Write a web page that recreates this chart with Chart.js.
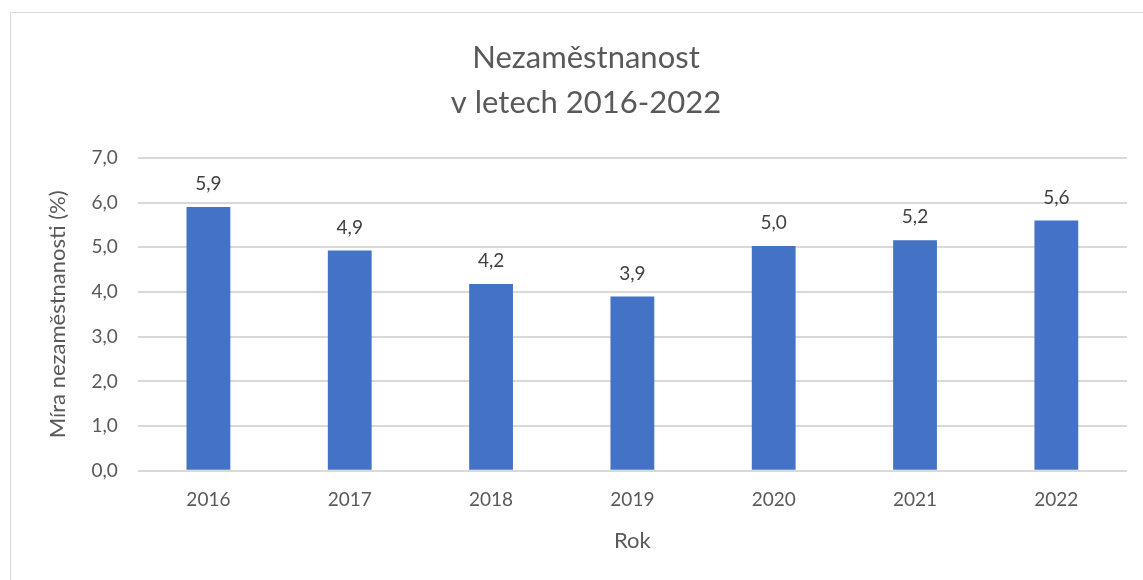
<!DOCTYPE html>
<html>
<head>
<meta charset="utf-8">
<script src="https://cdn.jsdelivr.net/npm/chart.js@4"></script>
<style>
    html, body { margin: 0; padding: 0; background: #fff; }
    #wrap { position: relative; width: 1143px; height: 580px; overflow: hidden; }
    #frame { position: absolute; left: 10px; top: 12px; width: 1150px; height: 580px; border: 1px solid #d9d9d9; box-sizing: border-box; }
    canvas { position: absolute; left: 0; top: 0; }
</style>
</head>
<body>
<div id="wrap">
    <div id="frame"></div>
    <canvas id="chart" width="1143" height="580"></canvas>
</div>
<script>
const years = ["2016", "2017", "2018", "2019", "2020", "2021", "2022"];
const unemployment = [5.9, 4.93, 4.18, 3.9, 5.03, 5.16, 5.6];
const labelValues = ["5,9", "4,9", "4,2", "3,9", "5,0", "5,2", "5,6"];
const yTicks = [0, 1, 2, 3, 4, 5, 6, 7];

const textColor = "#595959";
const gridColor = "#d9d9d9";
const fontFamily = "Lato, 'Open Sans', sans-serif";

// draws the value above each bar, like Excel data labels
const barLabels = {
    id: "barLabels",
    afterDatasetsDraw(chart) {
        const ctx = chart.ctx;
        const meta = chart.getDatasetMeta(0);
        ctx.save();
        ctx.fillStyle = "#404040";
        ctx.font = "19px " + fontFamily;
        ctx.textAlign = "center";
        ctx.textBaseline = "middle";
        meta.data.forEach(function (bar, i) {
            ctx.fillText(labelValues[i], bar.x, bar.y - 23);
        });
        ctx.restore();
    }
};

new Chart(document.getElementById("chart"), {
    type: "bar",
    data: {
        labels: years,
        datasets: [{
            data: unemployment,
            backgroundColor: "#4472C4",
            borderWidth: 0,
            categoryPercentage: 1,
            barPercentage: 0.31
        }]
    },
    options: {
        responsive: false,
        animation: false,
        layout: { padding: { left: 45, right: 16, top: 10, bottom: 22 } },
        plugins: {
            legend: { display: false },
            tooltip: { enabled: false },
            title: {
                display: true,
                text: ["Nezaměstnanost", "v letech 2016-2022"],
                color: textColor,
                font: { family: fontFamily, size: 31, weight: "normal", lineHeight: 1.45 },
                padding: { top: 26, bottom: 32 }
            }
        },
        scales: {
            x: {
                grid: { display: false },
                border: { display: false },
                ticks: { color: textColor, font: { family: fontFamily, size: 19 }, padding: 10 },
                title: {
                    display: true,
                    text: "Rok",
                    color: textColor,
                    font: { family: fontFamily, size: 22 },
                    padding: { top: 6 }
                }
            },
            y: {
                min: 0,
                max: 7,
                afterBuildTicks: function (axis) {
                    axis.ticks = yTicks.map(v => ({ value: v }));
                },
                grid: { color: gridColor, lineWidth: 2, drawTicks: false },
                border: { display: false },
                ticks: {
                    color: textColor,
                    font: { family: fontFamily, size: 19 },
                    padding: 20,
                    callback: v => v.toFixed(1).replace(".", ",")
                },
                title: {
                    display: true,
                    text: "Míra nezaměstnanosti (%)",
                    color: textColor,
                    font: { family: fontFamily, size: 22 },
                    padding: { top: 0, bottom: 0 }
                }
            }
        }
    },
    plugins: [barLabels]
});
</script>
</body>
</html>
